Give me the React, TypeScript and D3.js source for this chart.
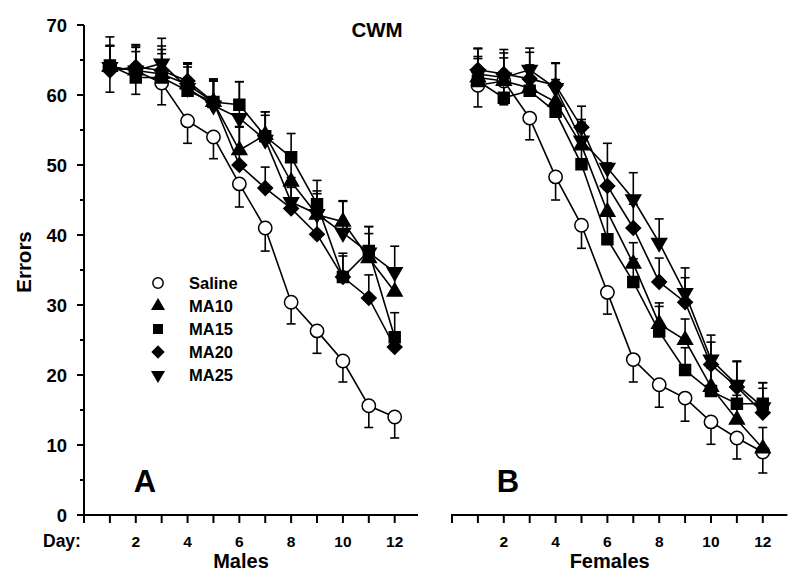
import React from "react";
import * as d3 from "d3";

const days = [1, 2, 3, 4, 5, 6, 7, 8, 9, 10, 11, 12];
const seriesNames = ["Saline", "MA10", "MA15", "MA20", "MA25"];
const yTicks = [0, 10, 20, 30, 40, 50, 60, 70];
const yMinorTicks = [5, 15, 25, 35, 45, 55, 65];
const xTicks = [0, 1, 2, 3, 4, 5, 6, 7, 8, 9, 10, 11, 12];
const xTickLabels = [2, 4, 6, 8, 10, 12];

// Males (panel A)
const malesSaline = [64, 63.5, 61.7, 56.3, 54, 47.3, 41, 30.4, 26.3, 22, 15.6, 14];
const malesMA10 = [64, 63.5, 63, 61.5, 59, 52.1, 54.3, 47.6, 42.9, 41.9, 36.7, 31.9];
const malesMA15 = [64.2, 62.5, 62.5, 60.6, 59, 58.6, 54.1, 51.1, 44.4, 34, 37.7, 25.4];
const malesMA20 = [63.5, 64, 63.5, 62, 59, 50, 46.7, 43.8, 40.1, 34, 31, 24];
const malesMA25 = [64, 63.5, 64.5, 61, 58.5, 56.7, 53.6, 44.7, 43, 40.3, 37.5, 34.7];
const malesSalineErr = [3.6, 3.4, 3.1, 3.2, 3.1, 3.3, 3.3, 3.1, 3.2, 3.0, 3.1, 3.0];
const malesMA10Err = [3, 3.3, 3.5, 3, 3, 3.4, 3.3, 3.2, 3, 3, 3.5, 3];
const malesMA15Err = [4.1, 3.7, 3.4, 3.4, 3.3, 3.3, 3.5, 3.4, 3.4, 3.4, 3.5, 3.5];
const malesMA20Err = [3.5, 3.2, 3.5, 2.6, 3, 5.4, 3, 3, 3.5, 3, 3.3, 2.0];
const malesMA25Err = [3.1, 3.5, 3.6, 3.4, 3.7, 5.2, 3.5, 3.5, 3.3, 4.5, 3.7, 3.7];

// Females (panel B)
const femalesSaline = [61.4, 62, 56.7, 48.3, 41.4, 31.8, 22.2, 18.6, 16.7, 13.3, 11, 9];
const femalesMA10 = [62.5, 62, 61, 59, 52.8, 43.3, 35.9, 27.3, 25, 18.3, 13.6, 9.5];
const femalesMA15 = [62, 59.6, 60.6, 57.6, 50.1, 39.4, 33.3, 26.2, 20.7, 17.7, 15.9, 15.9];
const femalesMA20 = [63.6, 63, 62.3, 61.4, 55.4, 47, 41, 33.3, 30.4, 21.5, 18.3, 14.6];
const femalesMA25 = [63, 62.5, 63.6, 61, 53.5, 49.6, 45.1, 38.9, 31.7, 22.2, 18.6, 15.4];
const femalesSalineErr = [3.1, 3.4, 3.1, 3.3, 3.3, 3.1, 3.2, 3.2, 3.3, 3.2, 3, 3];
const femalesMA10Err = [3, 3.3, 3.3, 3.2, 3.3, 3.2, 3, 3, 3, 3.2, 3.5, 3];
const femalesMA15Err = [3.2, 3.2, 3.5, 3.2, 3.2, 3.5, 3.3, 3.6, 3.2, 3.3, 3.2, 3];
const femalesMA20Err = [3.1, 3.5, 3.8, 3.2, 3, 3.3, 3.4, 3.4, 3.5, 3.2, 3.6, 3.5];
const femalesMA25Err = [3.6, 3.5, 3.1, 3.5, 3, 3.5, 3.8, 3.4, 3.6, 3.5, 3.4, 3.5];

const FONT = "'Liberation Sans', Arial, Helvetica, sans-serif";

type Series = { name: string; values: number[]; err: number[] };

const males: Series[] = [
  { name: "Saline", values: malesSaline, err: malesSalineErr },
  { name: "MA10", values: malesMA10, err: malesMA10Err },
  { name: "MA15", values: malesMA15, err: malesMA15Err },
  { name: "MA20", values: malesMA20, err: malesMA20Err },
  { name: "MA25", values: malesMA25, err: malesMA25Err },
];
const females: Series[] = [
  { name: "Saline", values: femalesSaline, err: femalesSalineErr },
  { name: "MA10", values: femalesMA10, err: femalesMA10Err },
  { name: "MA15", values: femalesMA15, err: femalesMA15Err },
  { name: "MA20", values: femalesMA20, err: femalesMA20Err },
  { name: "MA25", values: femalesMA25, err: femalesMA25Err },
];

const y = d3.scaleLinear().domain([0, 70]).range([515, 25]);
const xL = d3.scaleLinear().domain([0, 12.9]).range([84, 418]);
const xR = d3.scaleLinear().domain([0, 12.95]).range([452, 787.4]);

function symbolPath(name: string, scale = 1): { d: string; rot: number; fill: string } {
  switch (name) {
    case "Saline":
      return { d: d3.symbol(d3.symbolCircle, 140 * scale)()!, rot: 0, fill: "#fff" };
    case "MA10":
      return { d: d3.symbol(d3.symbolTriangle, 95 * scale)()!, rot: 0, fill: "#000" };
    case "MA15":
      return { d: d3.symbol(d3.symbolSquare, 120 * scale)()!, rot: 0, fill: "#000" };
    case "MA20":
      return { d: d3.symbol(d3.symbolSquare, 105 * scale)()!, rot: 45, fill: "#000" };
    default:
      return { d: d3.symbol(d3.symbolTriangle, 95 * scale)()!, rot: 180, fill: "#000" };
  }
}

function Panel({ data, x }: { data: Series[]; x: d3.ScaleLinear<number, number> }) {
  const line = d3
    .line<number>()
    .x((_, i) => x(days[i]))
    .y((v) => y(v));
  return (
    <g>
      {data.map((s) => (
        <path key={"l" + s.name} d={line(s.values)!} fill="none" stroke="#000" strokeWidth={1.6} />
      ))}
      {data.map((s) =>
        s.values.map((v, i) => {
          const dir = s.name === "Saline" ? -1 : 1;
          const cx = x(days[i]);
          const y0 = y(v);
          const y1 = y(v + dir * s.err[i]);
          return (
            <g key={"e" + s.name + i} stroke="#000" strokeWidth={1.6}>
              <line x1={cx} x2={cx} y1={y0} y2={y1} />
              <line x1={cx - 4.5} x2={cx + 4.5} y1={y1} y2={y1} />
            </g>
          );
        })
      )}
      {data.map((s) => {
        const sym = symbolPath(s.name);
        return s.values.map((v, i) => (
          <path
            key={"m" + s.name + i}
            d={sym.d}
            transform={`translate(${x(days[i])},${y(v)}) rotate(${sym.rot})`}
            fill={sym.fill}
            stroke="#000"
            strokeWidth={1.5}
          />
        ));
      })}
    </g>
  );
}

function XAxis({ x, label }: { x: d3.ScaleLinear<number, number>; label: string }) {
  const [r0, r1] = x.range();
  return (
    <g>
      <line x1={r0 - 1} x2={r1} y1={515} y2={515} stroke="#000" strokeWidth={2} />
      {xTicks.map((t) => (
        <line key={t} x1={x(t)} x2={x(t)} y1={515} y2={523} stroke="#000" strokeWidth={2} />
      ))}
      {xTickLabels.map((t) => (
        <text
          key={"lab" + t}
          x={x(t)}
          y={547}
          textAnchor="middle"
          fontSize={15.5}
          fontWeight="bold"
          fontFamily={FONT}
        >
          {t}
        </text>
      ))}
      <text
        x={(r0 + r1) / 2 - 10}
        y={568}
        textAnchor="middle"
        fontSize={20}
        fontWeight="bold"
        fontFamily={FONT}
      >
        {label}
      </text>
    </g>
  );
}

export default function App() {
  return (
    <svg
      width={800}
      height={586}
      style={{ position: "absolute", left: 0, top: 0, background: "#fff" }}
    >
      <rect width={800} height={586} fill="#fff" />
      {/* Y axis */}
      <line x1={84} x2={84} y1={25} y2={516} stroke="#000" strokeWidth={2} />
      {yTicks.map((t) => (
        <g key={"yt" + t}>
          <line x1={77} x2={84} y1={y(t)} y2={y(t)} stroke="#000" strokeWidth={2} />
          <text
            x={67}
            y={y(t)}
            dy="0.36em"
            textAnchor="end"
            fontSize={18.5}
            fontWeight="bold"
            fontFamily={FONT}
          >
            {t}
          </text>
        </g>
      ))}
      {yMinorTicks.map((t) => (
        <line key={"ym" + t} x1={80} x2={84} y1={y(t)} y2={y(t)} stroke="#000" strokeWidth={2} />
      ))}
      <text
        transform="translate(31,262) rotate(-90)"
        textAnchor="middle"
        fontSize={20.5}
        fontWeight="bold"
        fontFamily={FONT}
      >
        Errors
      </text>

      <XAxis x={xL} label="Males" />
      <XAxis x={xR} label="Females" />
      <text x={43} y={547} fontSize={17.5} fontWeight="bold" fontFamily={FONT}>
        Day:
      </text>

      <Panel data={males} x={xL} />
      <Panel data={females} x={xR} />

      {/* Legend */}
      {seriesNames.map((n, i) => {
        const sym = symbolPath(n, 0.6);
        const ly = 283 + i * 23;
        return (
          <g key={"lg" + n}>
            <path
              d={sym.d}
              transform={`translate(158,${ly}) rotate(${sym.rot})`}
              fill={sym.fill}
              stroke="#000"
              strokeWidth={1.5}
            />
            <text x={189} y={ly} dy="0.36em" fontSize={16.5} fontWeight="bold" fontFamily={FONT}>
              {n}
            </text>
          </g>
        );
      })}

      <text x={377} y={37} textAnchor="middle" fontSize={20.5} fontWeight="bold" fontFamily={FONT}>
        CWM
      </text>
      <text x={145} y={492} textAnchor="middle" fontSize={31} fontWeight="bold" fontFamily={FONT}>
        A
      </text>
      <text x={508} y={492} textAnchor="middle" fontSize={31} fontWeight="bold" fontFamily={FONT}>
        B
      </text>
    </svg>
  );
}
